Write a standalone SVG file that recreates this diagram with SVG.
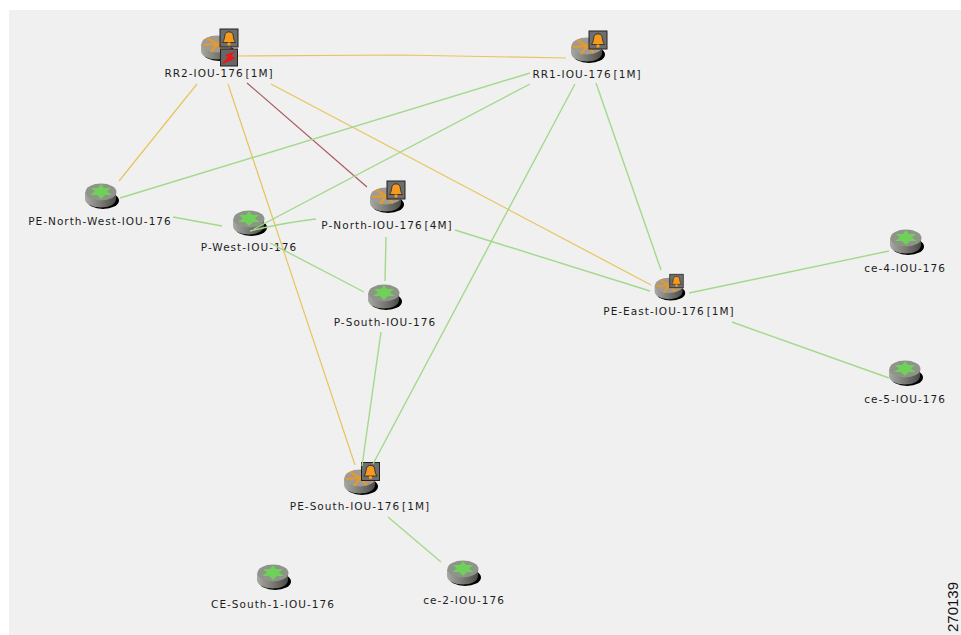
<svg xmlns="http://www.w3.org/2000/svg" width="961" height="635" viewBox="0 0 961 635">
<style>
text{font-family:"DejaVu Sans","Liberation Sans",sans-serif;font-size:10.5px;letter-spacing:1.03px;word-spacing:-2.5px;fill:#1c1c1c;text-anchor:middle}
.g{stroke:#a3d98a;stroke-width:1.4;fill:none}
.y{stroke:#e6c55c;stroke-width:1.2;fill:none}
.r{stroke:#a85c60;stroke-width:1.2;fill:none}
</style>
<defs>
<linearGradient id="body" x1="0" x2="1" y1="0" y2="0"><stop offset="0" stop-color="#a8a8a4"/><stop offset=".5" stop-color="#7b7b75"/><stop offset="1" stop-color="#4a4a48"/></linearGradient>
<g id="green">
<ellipse cx="2" cy="5.500" rx="16" ry="8.500" fill="#000"/>
<path d="M-16-3V4C-16 9-8 12.500 0 12.500S15 9 15 4V-3Z" fill="url(#body)"/>
<ellipse cx="0" cy="-3" rx="15.500" ry="8.500" fill="#8e948a"/>
<path d="M0-11L3-7 10-7 6-3.500 11 0 4 0 0 4-4 0-11 0-6-3.500-10-7-3-7Z" fill="#6fd05a"/>
</g>
<g id="orange">
<ellipse cx="2" cy="5.500" rx="16" ry="8.500" fill="#000"/>
<path d="M-16-3V4C-16 9-8 12.500 0 12.500S15 9 15 4V-3Z" fill="url(#body)"/>
<ellipse cx="0" cy="-3" rx="15.500" ry="8.500" fill="#a09a90"/>
<path d="M0-3L-10-9M0-3L-14-2M0-3L-6 5M0-3L12-9M0-3L14 0M0-3L7 4" stroke="#e39a30" stroke-width="2.200" fill="none"/>
</g>
<g id="bell">
<rect x="-9" y="-9" width="18" height="18" fill="#6e6e6e" stroke="#222" stroke-width="1"/>
<path d="M-6.500 4.500C-4.500 2-4.500-1-4-3.500C-3-7 3-7 4-3.500C4.500-1 4.500 2 6.500 4.500Z" fill="#f59a1e" stroke="#222" stroke-width=".8"/>
<circle cx="0" cy="6" r="1.700" fill="#f59a1e"/>
</g>
</defs>
<rect width="961" height="635" fill="#fff"/>
<rect x="9" y="10" width="952" height="625" fill="#f0f0f0"/>
<g id="rr2"><use href="#orange" x="217" y="47"/><use href="#bell" x="229" y="38"/><rect x="220.500" y="49" width="17" height="17" fill="#666" stroke="#222"/><path d="M236 51L225 55 228 57 221 65 236 58 231 56Z" fill="#e81818"/><text x="219" y="77">RR2-IOU-176 [1M]</text></g>
<g id="rr1"><use href="#orange" x="587" y="49"/><use href="#bell" x="598" y="40"/><text x="587" y="78">RR1-IOU-176 [1M]</text></g>
<g id="pe-north-west"><use href="#green" x="101" y="195"/><text x="100" y="225">PE-North-West-IOU-176</text></g>
<g id="p-west"><use href="#green" x="249" y="222"/><text x="249" y="251">P-West-IOU-176</text></g>
<g id="p-north"><use href="#orange" x="386" y="199"/><use href="#bell" x="396" y="190"/><text x="387" y="229">P-North-IOU-176 [4M]</text></g>
<g id="p-south"><use href="#green" x="384" y="296"/><text x="385" y="326">P-South-IOU-176</text></g>
<g id="pe-east"><use href="#orange" transform="translate(669 288) scale(.9)"/><use href="#bell" transform="translate(676.500 281) scale(.75)"/><text x="669" y="315">PE-East-IOU-176 [1M]</text></g>
<g id="ce-4"><use href="#green" x="906" y="241"/><text x="905" y="272">ce-4-IOU-176</text></g>
<g id="ce-5"><use href="#green" x="905" y="372"/><text x="905" y="403">ce-5-IOU-176</text></g>
<g id="pe-south"><use href="#orange" x="360" y="481"/><use href="#bell" x="370.500" y="471.500"/><text x="360" y="510">PE-South-IOU-176 [1M]</text></g>
<g id="ce-south-1"><use href="#green" x="273" y="576"/><text x="273" y="608">CE-South-1-IOU-176</text></g>
<g id="ce-2"><use href="#green" x="463" y="572"/><text x="464" y="604">ce-2-IOU-176</text></g>
<g id="connectors">
<path class="y" d="M238 56L400 55 566 58"/>
<path class="y" d="M197 84L119 181"/>
<path class="y" d="M228 84L355 465"/>
<path class="r" d="M247 83L367 187"/>
<path class="y" d="M271 84L651 285"/>
<path class="g" d="M120 198L530 73"/>
<path class="g" d="M254 229L530 84"/>
<path class="g" d="M575 84L373 464"/>
<path class="g" d="M596 83L661 270"/>
<path class="g" d="M173 217L222 226"/>
<path class="g" d="M250 231C270 226 290 222 316 219"/>
<path class="g" d="M270 243L364 292"/>
<path class="g" d="M386 237L385 281"/>
<path class="g" d="M381 332L362 466"/>
<path class="g" d="M455 230L650 291"/>
<path class="g" d="M689 293L889 251"/>
<path class="g" d="M732 322L889 378"/>
<path class="g" d="M388 517L441 562"/>
</g>
<text transform="translate(958,632) rotate(-90)" style="font-family:'Liberation Sans',sans-serif;font-size:15px;letter-spacing:0;word-spacing:0;fill:#111;text-anchor:start">270139</text>
</svg>
